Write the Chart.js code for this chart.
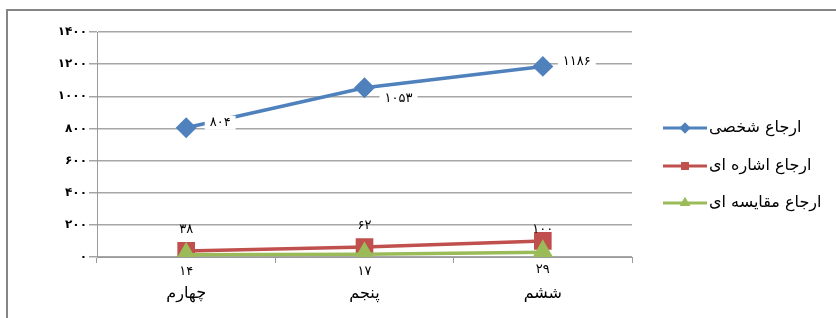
<!DOCTYPE html>
<html>
<head>
<meta charset="utf-8">
<script src="https://cdn.jsdelivr.net/npm/chart.js@4.4.1/dist/chart.umd.min.js"></script>
<style>
    html, body { margin: 0; padding: 0; background: #fff; overflow: hidden; }
    canvas { display: block; }
</style>
</head>
<body>
<canvas id="refChart" width="836" height="318"></canvas>
<script>
// Données
const categories = ['چهارم', 'پنجم', 'ششم'];
const seriesNames = ['ارجاع شخصی', 'ارجاع اشاره ای', 'ارجاع مقایسه ای'];
const personalValues = [804, 1053, 1186];
const pointingValues = [38, 62, 100];
const compareValues = [14, 17, 29];
const yTicks = [0, 200, 400, 600, 800, 1000, 1200, 1400];

const colors = ['#4F81BD', '#C0504D', '#9BBB59'];
const FONT = '"DejaVu Sans", sans-serif';

// Chiffres persans
function toFa(n) {
    const d = '۰۱۲۳۴۵۶۷۸۹';
    return String(n).replace(/[0-9]/g, c => d[+c]);
}

// Cadre extérieur (bord gauche et haut)
const framePlugin = {
    id: 'frame',
    beforeDraw(chart) {
        const ctx = chart.ctx;
        ctx.save();
        ctx.fillStyle = '#fff';
        ctx.fillRect(0, 0, chart.width, chart.height);
        ctx.strokeStyle = '#858585';
        ctx.lineWidth = 2;
        ctx.beginPath();
        ctx.moveTo(7, chart.height);
        ctx.lineTo(7, 10);
        ctx.lineTo(chart.width, 10);
        ctx.stroke();
        ctx.restore();
    }
};

// Étiquettes de données
const labelPlugin = {
    id: 'pointLabels',
    afterDatasetsDraw(chart) {
        const ctx = chart.ctx;
        ctx.save();
        ctx.font = '13px ' + FONT;
        ctx.textAlign = 'center';
        ctx.textBaseline = 'middle';
        chart.data.datasets.forEach((ds, i) => {
            const meta = chart.getDatasetMeta(i);
            meta.data.forEach((pt, j) => {
                const txt = toFa(ds.data[j]);
                let x = pt.x, y = pt.y;
                if (i === 0) {
                    x += 34; y += (j === 1 ? 11 : -5);
                    const w = ctx.measureText(txt).width + 10;
                    ctx.fillStyle = '#fff';
                    ctx.fillRect(x - w / 2, y - 7, w, 14);
                } else if (i === 1) {
                    y -= (j === 2 ? 11 : 21);
                } else {
                    y += 17;
                }
                ctx.fillStyle = '#000';
                ctx.fillText(txt, x, y);
            });
        });
        ctx.restore();
    }
};

// Légende à droite
const legendPlugin = {
    id: 'sideLegend',
    afterDraw(chart) {
        const ctx = chart.ctx;
        const rows = [128, 166, 203];
        const markerSize = [5.5, 5.5, 6];
        ctx.save();
        chart.data.datasets.forEach((ds, i) => {
            const y = rows[i];
            ctx.strokeStyle = ds.borderColor;
            ctx.lineWidth = 3;
            ctx.beginPath();
            ctx.moveTo(663, y);
            ctx.lineTo(707, y);
            ctx.stroke();
            ctx.fillStyle = ds.backgroundColor;
            Chart.helpers.drawPoint(ctx, {
                pointStyle: ds.pointStyle, radius: markerSize[i], borderWidth: 0
            }, 685, y);
            ctx.fill();
            ctx.fillStyle = '#000';
            ctx.font = '16px ' + FONT;
            ctx.textAlign = 'left';
            ctx.textBaseline = 'middle';
            ctx.fillText(ds.label, 709, y);
        });
        ctx.restore();
    }
};

// ordre de dessin : rouge au fond, puis vert, puis bleu
const drawOrder = [0, 2, 1];

const datasets = [personalValues, pointingValues, compareValues].map((vals, i) => ({
    label: seriesNames[i],
    data: vals,
    order: drawOrder[i],
    borderColor: colors[i],
    backgroundColor: colors[i],
    pointBackgroundColor: colors[i],
    pointBorderColor: colors[i],
    borderWidth: 3.5,
    pointStyle: ['rectRot', 'rect', 'triangle'][i],
    pointRadius: [8, 10, 9.5][i],
    tension: 0
}));

const chart = new Chart(document.getElementById('refChart'), {
    type: 'line',
    data: { labels: categories, datasets: datasets },
    options: {
        responsive: false,
        animation: false,
        devicePixelRatio: 1,
        layout: { padding: { top: 32, right: 204, left: 0, bottom: 0 } },
        plugins: { legend: { display: false }, tooltip: { enabled: false } },
        scales: {
            x: {
                offset: true,
                afterFit: s => { s.height = 61; },
                grid: { offset: true, drawOnChartArea: false, drawTicks: true, tickLength: 6, color: '#9a9a9a' },
                border: { color: '#9a9a9a' },
                ticks: { padding: 21, color: '#000', font: { family: FONT, size: 16 } }
            },
            y: {
                min: 0, max: 1400,
                afterFit: s => { s.width = 97; },
                afterBuildTicks: s => { s.ticks = yTicks.map(v => ({ value: v })); },
                grid: { color: '#a6a6a6', tickLength: 8, lineWidth: 1.5 },
                border: { color: '#9a9a9a' },
                ticks: {
                    padding: 2, color: '#000',
                    font: { family: FONT, size: 12, weight: 'bold' },
                    callback: v => toFa(v)
                }
            }
        }
    },
    plugins: [framePlugin, labelPlugin, legendPlugin]
});
</script>
</body>
</html>
